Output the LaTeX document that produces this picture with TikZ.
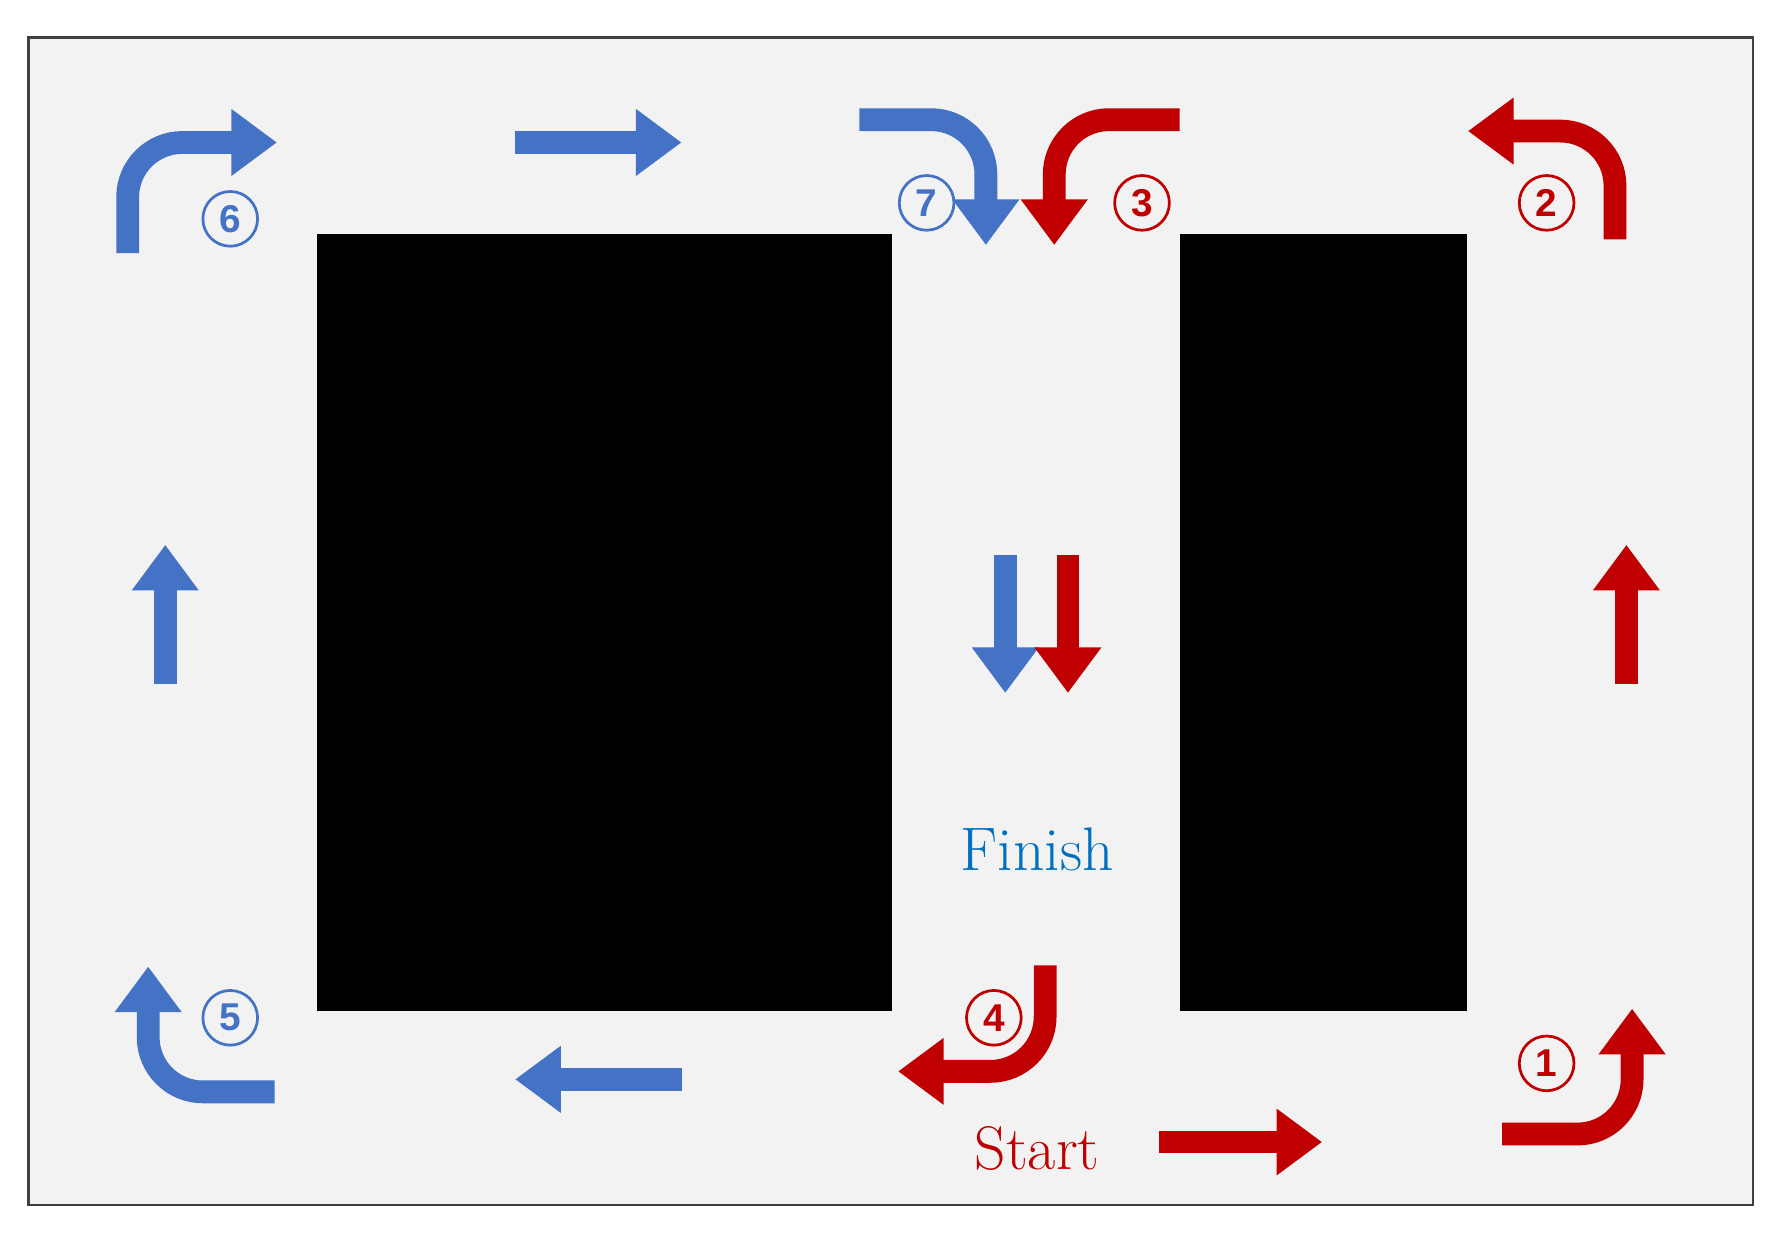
\documentclass[tikz,border=0pt]{standalone}
\usepackage{fontspec}
\newfontfamily\numfont{Liberation Sans}
\usetikzlibrary{arrows.meta}
\definecolor{cblue}{HTML}{4472C4}
\definecolor{cred}{HTML}{C00000}
\definecolor{cfin}{HTML}{0070C0}
\definecolor{bg}{HTML}{F2F2F2}
\begin{document}
\begin{tikzpicture}[x=0.5pt,y=-0.5pt,
  arr/.style={line width=10pt,rounded corners=24pt,-{Triangle[width=28pt,length=20pt]}},
  num/.style={circle,draw,line width=1.2pt,minimum size=24pt,inner sep=0pt,font=\numfont\bfseries\fontsize{17}{17}\selectfont}]
\useasboundingbox (0,0) rectangle (1560,1093);
\draw[fill=bg,draw=black!75,line width=1pt] (25,33) rectangle (1538,1057);
\fill[black] (278,205) rectangle (783,887);
\fill[black] (1035,205) rectangle (1287,887);
% blue
\draw[arr,cblue] (145,600) -- (145,478);
\draw[arr,cblue] (112,222) -- (112,125) -- (243,125);
\draw[arr,cblue] (452,125) -- (598,125);
\draw[arr,cblue] (754,105) -- (865,105) -- (865,215);
\draw[arr,cblue,rounded corners=0pt] (882,487) -- (882,608);
\draw[arr,cblue] (598,947) -- (452,947);
\draw[arr,cblue] (241,958) -- (130,958) -- (130,848);
% red
\draw[arr,cred] (1318,995) -- (1432,995) -- (1432,885);
\draw[arr,cred] (1427,600) -- (1427,478);
\draw[arr,cred] (1417,210) -- (1417,115) -- (1288,115);
\draw[arr,cred] (1035,105) -- (925,105) -- (925,215);
\draw[arr,cred] (937,487) -- (937,608);
\draw[arr,cred] (917,847) -- (917,940) -- (788,940);
\draw[arr,cred] (1017,1002) -- (1160,1002);
% labels
\node[num,cblue] (n6) at (202,192) {6};
\node[num,cblue] (n7) at (813,178) {7};
\node[num,cred] (n3) at (1002,178) {3};
\node[num,cred] (n2) at (1357,178) {2};
\node[num,cblue] (n5) at (202,893) {5};
\node[num,cred] (n4) at (872,893) {4};
\node[num,cred] (n1) at (1357,933) {1};
\node[text=cfin,font=\fontsize{27}{27}\selectfont] (fin) at (910,745) {Finish};
\node[text=cred,font=\fontsize{27}{27}\selectfont] (st) at (910,1008) {Start};
\end{tikzpicture}
\end{document}
